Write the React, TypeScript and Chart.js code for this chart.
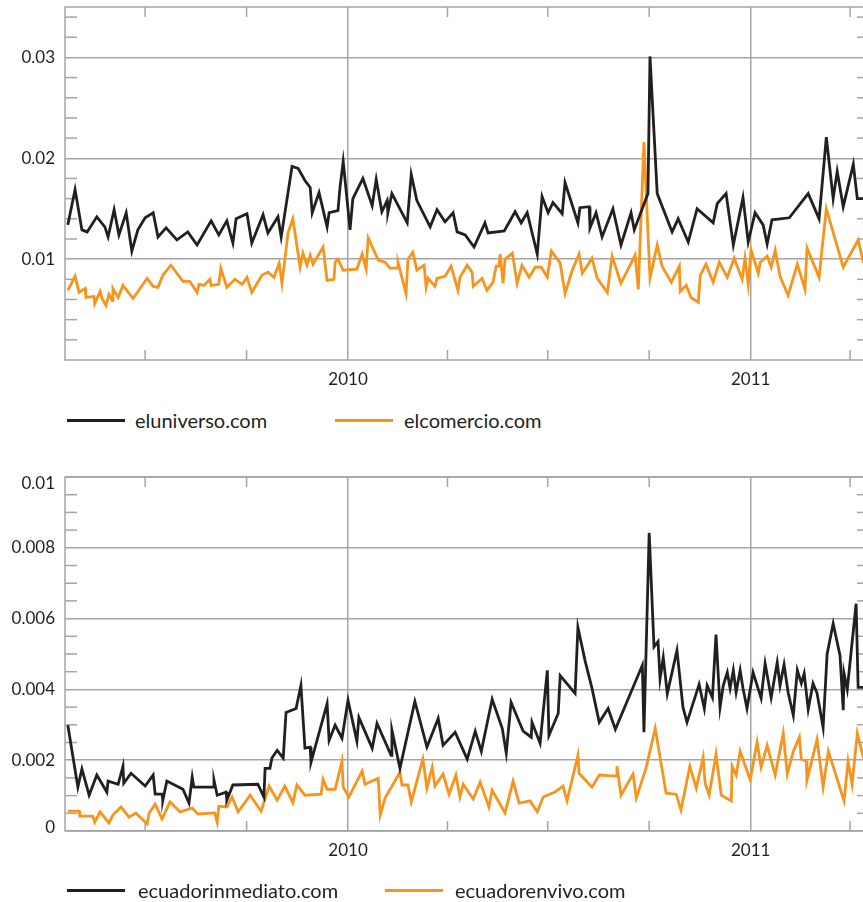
import React, { useEffect, useRef } from "react";
import { Chart, registerables } from "chart.js";
Chart.register(...registerables);

const FONT = "Lato, 'Open Sans', sans-serif";
const INK = "#231f20";
const ORANGE = "#f7941d";
const GRID = "#a5a5a5";

// x axis in decimal years
const X_MIN = 2009.297;
const X_MAX = 2011.294;
const YEAR_TICKS = [2010, 2011];
const QUARTER_TICKS = [2009.496, 2009.748, 2010.247, 2010.496, 2010.748, 2011.247];

const TOP_Y_MAX = 0.035;
const TOP_Y_TICKS = [0.01, 0.02, 0.03];
const TOP_Y_MINOR_STEP = 0.002;
const BOTTOM_Y_MAX = 0.01;
const BOTTOM_Y_TICKS = [0, 0.002, 0.004, 0.006, 0.008, 0.01];
const BOTTOM_Y_MINOR_STEP = 0.0005;

// eluniverso.com
const eluniversoDates = [
  2009.304, 2009.322, 2009.339, 2009.352, 2009.376, 2009.396, 2009.404, 2009.419, 2009.431, 2009.449,
  2009.463, 2009.478, 2009.496, 2009.516, 2009.528, 2009.548, 2009.575, 2009.602, 2009.625, 2009.66,
  2009.679, 2009.699, 2009.714, 2009.722, 2009.749, 2009.761, 2009.789, 2009.801, 2009.826, 2009.834,
  2009.861, 2009.876, 2009.893, 2009.906, 2009.911, 2009.928, 2009.948, 2009.953, 2009.975, 2009.98,
  2009.988, 2010.005, 2010.012, 2010.037, 2010.06, 2010.07, 2010.084, 2010.097, 2010.099, 2010.109,
  2010.147, 2010.157, 2010.171, 2010.204, 2010.221, 2010.241, 2010.261, 2010.271, 2010.291, 2010.313,
  2010.34, 2010.348, 2010.388, 2010.415, 2010.43, 2010.445, 2010.47, 2010.482, 2010.497, 2010.509,
  2010.532, 2010.539, 2010.559, 2010.571, 2010.576, 2010.599, 2010.601, 2010.616, 2010.631, 2010.658,
  2010.678, 2010.703, 2010.711, 2010.745, 2010.75, 2010.768, 2010.805, 2010.82, 2010.845, 2010.867,
  2010.907, 2010.917, 2010.939, 2010.957, 2010.981, 2010.994, 2011.011, 2011.031, 2011.041, 2011.053,
  2011.096, 2011.143, 2011.17, 2011.188, 2011.205, 2011.215, 2011.23, 2011.255, 2011.265, 2011.28, 2011.292,
];
const eluniversoValues = [
  0.0134, 0.0169, 0.0129, 0.0127, 0.0142, 0.0132, 0.0122, 0.0149, 0.0124, 0.0146,
  0.0108, 0.0129, 0.0141, 0.0146, 0.0122, 0.0131, 0.0119, 0.0127, 0.0114, 0.0138,
  0.0124, 0.0138, 0.0116, 0.014, 0.0145, 0.0116, 0.0144, 0.0126, 0.0142, 0.0122,
  0.0192, 0.019, 0.0178, 0.0171, 0.0146, 0.0166, 0.0132, 0.0146, 0.0148, 0.0171,
  0.0197, 0.0129, 0.016, 0.018, 0.0153, 0.0179, 0.0147, 0.0158, 0.0146, 0.0165,
  0.0136, 0.0184, 0.0158, 0.0132, 0.0149, 0.0137, 0.0146, 0.0127, 0.0124, 0.0112,
  0.0136, 0.0126, 0.0128, 0.0147, 0.0136, 0.0146, 0.0105, 0.0162, 0.0146, 0.0156,
  0.0145, 0.0176, 0.0151, 0.0136, 0.0151, 0.0152, 0.0131, 0.0146, 0.0122, 0.015,
  0.0114, 0.0146, 0.0129, 0.0165, 0.0301, 0.0165, 0.0127, 0.014, 0.0117, 0.015,
  0.0136, 0.0155, 0.0165, 0.0114, 0.0161, 0.0117, 0.0146, 0.0134, 0.0115, 0.0139,
  0.0141, 0.0165, 0.014, 0.0221, 0.016, 0.0187, 0.0152, 0.0194, 0.016, 0.016, 0.016,
];

// elcomercio.com
const elcomercioDates = [
  2009.304, 2009.322, 2009.332, 2009.347, 2009.349, 2009.369, 2009.371, 2009.384, 2009.389, 2009.399,
  2009.406, 2009.414, 2009.416, 2009.429, 2009.441, 2009.466, 2009.501, 2009.516, 2009.528, 2009.54,
  2009.56, 2009.59, 2009.607, 2009.625, 2009.63, 2009.642, 2009.657, 2009.66, 2009.679, 2009.684,
  2009.699, 2009.719, 2009.737, 2009.749, 2009.761, 2009.786, 2009.801, 2009.816, 2009.829, 2009.836,
  2009.851, 2009.863, 2009.881, 2009.888, 2009.898, 2009.906, 2009.913, 2009.938, 2009.948, 2009.965,
  2009.968, 2009.975, 2009.988, 2010.022, 2010.035, 2010.045, 2010.05, 2010.075, 2010.092, 2010.104,
  2010.122, 2010.124, 2010.144, 2010.149, 2010.161, 2010.171, 2010.189, 2010.194, 2010.199, 2010.216,
  2010.221, 2010.241, 2010.256, 2010.273, 2010.278, 2010.296, 2010.308, 2010.311, 2010.333, 2010.345,
  2010.36, 2010.368, 2010.375, 2010.378, 2010.385, 2010.39, 2010.408, 2010.42, 2010.432, 2010.45,
  2010.465, 2010.48, 2010.495, 2010.505, 2010.527, 2010.539, 2010.557, 2010.574, 2010.582, 2010.606,
  2010.619, 2010.644, 2010.656, 2010.678, 2010.713, 2010.721, 2010.735, 2010.75, 2010.768, 2010.78,
  2010.803, 2010.823, 2010.825, 2010.84, 2010.852, 2010.87, 2010.875, 2010.889, 2010.907, 2010.922,
  2010.942, 2010.959, 2010.979, 2010.986, 2010.994, 2011.001, 2011.019, 2011.024, 2011.041, 2011.051,
  2011.061, 2011.073, 2011.093, 2011.116, 2011.135, 2011.14, 2011.17, 2011.188, 2011.23, 2011.267,
  2011.28, 2011.292,
];
const elcomercioValues = [
  0.0069, 0.0083, 0.0067, 0.0071, 0.0062, 0.0063, 0.0056, 0.0068, 0.0061, 0.0054,
  0.0065, 0.0059, 0.0071, 0.0062, 0.0074, 0.0061, 0.0081, 0.0073, 0.0072, 0.0084,
  0.0094, 0.0078, 0.0078, 0.0067, 0.0075, 0.0074, 0.008, 0.0074, 0.0075, 0.0091,
  0.0072, 0.008, 0.0075, 0.0082, 0.0067, 0.0084, 0.0087, 0.0082, 0.0096, 0.0076,
  0.0126, 0.014, 0.0092, 0.0106, 0.0094, 0.0104, 0.0095, 0.0112, 0.0079, 0.008,
  0.0097, 0.01, 0.0089, 0.009, 0.0105, 0.009, 0.0121, 0.0099, 0.0097, 0.0091,
  0.0091, 0.0097, 0.0066, 0.01, 0.0107, 0.0089, 0.0094, 0.0072, 0.0081, 0.0073,
  0.0081, 0.0083, 0.0093, 0.0069, 0.0082, 0.0094, 0.0087, 0.0073, 0.0081, 0.0069,
  0.0077, 0.0093, 0.0093, 0.0105, 0.0076, 0.01, 0.0106, 0.0076, 0.0094, 0.0082,
  0.0092, 0.0092, 0.0082, 0.0108, 0.0096, 0.0066, 0.0089, 0.0105, 0.0086, 0.0101,
  0.0081, 0.0067, 0.0103, 0.0076, 0.0104, 0.007, 0.0216, 0.0081, 0.0114, 0.0093,
  0.0077, 0.0093, 0.0068, 0.0074, 0.0062, 0.0057, 0.0084, 0.0095, 0.0077, 0.0097,
  0.0082, 0.0101, 0.008, 0.0101, 0.0075, 0.0109, 0.0086, 0.0097, 0.0103, 0.0092,
  0.0109, 0.0083, 0.0064, 0.0095, 0.007, 0.0111, 0.0082, 0.015, 0.0092, 0.0119,
  0.0097, 0.009,
];

// ecuadorinmediato.com
const ecuadorinmediatoDates = [
  2009.304, 2009.329, 2009.339, 2009.357, 2009.376, 2009.401, 2009.404, 2009.429, 2009.441, 2009.443,
  2009.461, 2009.496, 2009.516, 2009.521, 2009.538, 2009.54, 2009.55, 2009.59, 2009.605, 2009.613,
  2009.617, 2009.665, 2009.667, 2009.675, 2009.697, 2009.699, 2009.714, 2009.776, 2009.791, 2009.794,
  2009.806, 2009.811, 2009.824, 2009.839, 2009.846, 2009.871, 2009.883, 2009.893, 2009.906, 2009.908,
  2009.948, 2009.953, 2009.968, 2009.985, 2010.0, 2010.022, 2010.027, 2010.06, 2010.072, 2010.107,
  2010.109, 2010.129, 2010.166, 2010.196, 2010.224, 2010.236, 2010.266, 2010.296, 2010.316, 2010.331,
  2010.358, 2010.383, 2010.393, 2010.405, 2010.435, 2010.455, 2010.457, 2010.477, 2010.495, 2010.499,
  2010.522, 2010.527, 2010.564, 2010.571, 2010.589, 2010.606, 2010.624, 2010.646, 2010.664, 2010.731,
  2010.735, 2010.748, 2010.76, 2010.77, 2010.775, 2010.783, 2010.793, 2010.817, 2010.832, 2010.842,
  2010.872, 2010.885, 2010.892, 2010.905, 2010.914, 2010.924, 2010.932, 2010.942, 2010.949, 2010.957,
  2010.964, 2010.974, 2010.981, 2010.991, 2011.006, 2011.026, 2011.036, 2011.051, 2011.066, 2011.073,
  2011.083, 2011.093, 2011.106, 2011.116, 2011.126, 2011.133, 2011.143, 2011.155, 2011.165, 2011.18,
  2011.19, 2011.205, 2011.222, 2011.23, 2011.232, 2011.24, 2011.262, 2011.267, 2011.28, 2011.292,
];
const ecuadorinmediatoValues = [
  0.00299, 0.00124, 0.00175, 0.00101, 0.00158, 0.0011, 0.00141, 0.00132, 0.00183, 0.00135,
  0.00163, 0.00127, 0.00158, 0.00104, 0.00104, 0.00087, 0.00141, 0.00118, 0.00079, 0.00152,
  0.00124, 0.00124, 0.00144, 0.00101, 0.0011, 0.00087, 0.0013, 0.00132, 0.00096, 0.00177,
  0.00177, 0.00206, 0.00228, 0.00206, 0.00335, 0.00346, 0.00411, 0.00234, 0.00237, 0.00194,
  0.0036, 0.00256, 0.00299, 0.00262, 0.00369, 0.00254, 0.00321, 0.00234, 0.00304, 0.00214,
  0.00285, 0.00177, 0.00366, 0.00237, 0.00318, 0.00242, 0.00279, 0.00203, 0.00282, 0.00225,
  0.00372, 0.0029, 0.0022, 0.00363, 0.00282, 0.00265, 0.00307, 0.00248, 0.00454, 0.0027,
  0.00332, 0.00439, 0.00389, 0.00575, 0.0048, 0.00403, 0.00307, 0.00346, 0.00287, 0.00468,
  0.00279, 0.00842, 0.0052, 0.00535, 0.0043, 0.0049, 0.00388, 0.0051, 0.00349, 0.00307,
  0.00414, 0.00346, 0.00411, 0.00377, 0.00555, 0.00349, 0.00411, 0.00448, 0.00403, 0.00454,
  0.00392, 0.00454, 0.00403, 0.00346, 0.00448, 0.00375, 0.00473, 0.00377, 0.00476, 0.00411,
  0.0047, 0.00392, 0.00327, 0.00454, 0.00417, 0.00445, 0.00344, 0.00417, 0.00389, 0.00293,
  0.005, 0.00586, 0.00496, 0.00341, 0.00445, 0.004, 0.00642, 0.00406, 0.00406, 0.00406,
];

// ecuadorenvivo.com
const ecuadorenvivoDates = [
  2009.304, 2009.332, 2009.334, 2009.366, 2009.371, 2009.384, 2009.406, 2009.416, 2009.436, 2009.456,
  2009.473, 2009.501, 2009.506, 2009.521, 2009.538, 2009.558, 2009.583, 2009.613, 2009.627, 2009.669,
  2009.675, 2009.679, 2009.699, 2009.712, 2009.727, 2009.757, 2009.784, 2009.804, 2009.824, 2009.843,
  2009.863, 2009.873, 2009.893, 2009.933, 2009.938, 2009.948, 2009.968, 2009.985, 2009.988, 2010.002,
  2010.035, 2010.042, 2010.075, 2010.08, 2010.092, 2010.129, 2010.134, 2010.149, 2010.157, 2010.186,
  2010.196, 2010.209, 2010.216, 2010.236, 2010.251, 2010.268, 2010.278, 2010.286, 2010.311, 2010.328,
  2010.35, 2010.358, 2010.39, 2010.41, 2010.425, 2010.452, 2010.47, 2010.485, 2010.514, 2010.534,
  2010.544, 2010.571, 2010.574, 2010.606, 2010.624, 2010.666, 2010.668, 2010.678, 2010.708, 2010.716,
  2010.74, 2010.763, 2010.79, 2010.815, 2010.827, 2010.849, 2010.865, 2010.882, 2010.887, 2010.897,
  2010.914, 2010.927, 2010.952, 2010.954, 2010.964, 2010.974, 2010.999, 2011.016, 2011.026, 2011.041,
  2011.061, 2011.081, 2011.091, 2011.106, 2011.121, 2011.126, 2011.138, 2011.14, 2011.165, 2011.18,
  2011.193, 2011.232, 2011.242, 2011.252, 2011.265, 2011.28, 2011.292,
];
const ecuadorenvivoValues = [
  0.00056, 0.00056, 0.00042, 0.00042, 0.00025, 0.00054, 0.00023, 0.00045, 0.00068, 0.00039,
  0.00051, 0.0002, 0.00051, 0.00076, 0.00034, 0.00082, 0.00054, 0.00065, 0.00048, 0.00051,
  0.00025, 0.0007, 0.00068, 0.00096, 0.00054, 0.00101, 0.00056, 0.00127, 0.00087, 0.00127,
  0.0008, 0.0013, 0.00101, 0.00104, 0.00146, 0.00118, 0.00118, 0.00197, 0.00124, 0.00096,
  0.00169, 0.00132, 0.00149, 0.00045, 0.00093, 0.00166, 0.0013, 0.0013, 0.00082, 0.00203,
  0.00121, 0.0018, 0.00127, 0.00161, 0.00104, 0.00158, 0.00096, 0.00132, 0.0009, 0.00138,
  0.00068, 0.00115, 0.00051, 0.00141, 0.00079, 0.00085, 0.00054, 0.00096, 0.0011, 0.00127,
  0.00085, 0.00214, 0.00163, 0.00124, 0.00158, 0.00155, 0.00183, 0.00101, 0.00161, 0.00093,
  0.00177, 0.0029, 0.00107, 0.00104, 0.00059, 0.00183, 0.00121, 0.00208, 0.00135, 0.00101,
  0.00217, 0.00101, 0.00085, 0.00183, 0.00158, 0.00225, 0.00144, 0.00251, 0.0018, 0.00242,
  0.00158, 0.00276, 0.00161, 0.00225, 0.00265, 0.00203, 0.00197, 0.00144, 0.00259, 0.00124,
  0.00225, 0.00085, 0.00197, 0.00132, 0.00276, 0.00208, 0.0019,
];

type Series = { label: string; color: string; dates: number[]; values: number[] };

function framePlugin(minor: number[], yTicks: number[]) {
  return {
    id: "frameTicks",
    beforeDatasetsDraw(chart: any) {
      const { ctx, chartArea: a, scales } = chart;
      const xs = scales.x;
      const ys = scales.y;
      ctx.save();
      ctx.strokeStyle = GRID;
      ctx.lineWidth = 1.5;
      const seg = (x1: number, y1: number, x2: number, y2: number) => {
        ctx.beginPath();
        ctx.moveTo(x1, y1);
        ctx.lineTo(x2, y2);
        ctx.stroke();
      };
      for (const v of minor) {
        const py = ys.getPixelForValue(v);
        seg(a.left, py, a.left + 12, py);
        seg(a.right - 12, py, a.right, py);
      }
      for (const q of QUARTER_TICKS) {
        const px = xs.getPixelForValue(q);
        seg(px, a.top, px, a.top + 10);
        seg(px, a.bottom - 10, px, a.bottom);
      }
      ctx.strokeRect(a.left, a.top, a.right - a.left, a.bottom - a.top);
      // y tick labels, kept inside the frame's vertical extent
      ctx.fillStyle = INK;
      ctx.font = `17px ${FONT}`;
      ctx.textAlign = "right";
      ctx.textBaseline = "middle";
      for (const v of yTicks) {
        const py = Math.min(Math.max(ys.getPixelForValue(v), a.top + 7), a.bottom - 3);
        ctx.fillText(String(v), a.left - 10, py);
      }
      ctx.restore();
    },
  };
}

type PanelProps = {
  top: number;
  height: number;
  padTop: number;
  axisHeight: number;
  yMax: number;
  yTicks: number[];
  yMinorStep: number;
  series: Series[];
  legendY: number;
  legendX: { line: number; text: number }[];
};

function Panel(p: PanelProps) {
  const ref = useRef<HTMLCanvasElement>(null);
  useEffect(() => {
    const minor: number[] = [];
    for (let k = 1; k * p.yMinorStep < p.yMax - 1e-9; k++) {
      const v = +(k * p.yMinorStep).toFixed(6);
      if (!p.yTicks.some((t) => Math.abs(t - v) < 1e-9)) minor.push(v);
    }
    const tickFont = { family: FONT, size: 17 };
    const chart = new Chart(ref.current as HTMLCanvasElement, {
      type: "line",
      data: {
        datasets: p.series.map((s) => ({
          label: s.label,
          data: s.dates.map((d, i) => ({ x: d, y: s.values[i] })),
          borderColor: s.color,
          backgroundColor: s.color,
          borderWidth: 2.8,
          pointRadius: 0,
          tension: 0,
          fill: false,
        })),
      },
      options: {
        animation: false,
        responsive: false,
        maintainAspectRatio: false,
        layout: { padding: { top: p.padTop, right: 11, left: 0, bottom: 0 } },
        plugins: { legend: { display: false }, tooltip: { enabled: false } },
        scales: {
          x: {
            type: "linear",
            min: X_MIN,
            max: X_MAX,
            afterBuildTicks: (s: any) => {
              s.ticks = YEAR_TICKS.map((v) => ({ value: v }));
            },
            afterFit: (s: any) => {
              s.height = p.axisHeight;
              s.paddingLeft = 0;
              s.paddingRight = 0;
            },
            ticks: {
              callback: (v: any) => String(v),
              font: tickFont,
              color: INK,
              padding: 9,
              maxRotation: 0,
              autoSkip: false,
            },
            grid: { color: GRID, lineWidth: 1.5, drawTicks: false },
            border: { display: false },
          },
          y: {
            type: "linear",
            min: 0,
            max: p.yMax,
            afterBuildTicks: (s: any) => {
              s.ticks = p.yTicks.map((v) => ({ value: v }));
            },
            afterFit: (s: any) => {
              s.width = 65;
              s.paddingTop = 0;
              s.paddingBottom = 0;
            },
            ticks: { display: false, autoSkip: false },
            grid: { color: GRID, lineWidth: 1.5, drawTicks: false },
            border: { display: false },
          },
        },
      } as any,
      plugins: [framePlugin(minor, p.yTicks) as any],
    });
    return () => chart.destroy();
  }, []);

  return (
    <>
      <canvas
        ref={ref}
        width={880}
        height={p.height}
        style={{ position: "absolute", left: 0, top: p.top, width: 880, height: p.height }}
      />
      {p.series.map((s, i) => (
        <React.Fragment key={s.label}>
          <div
            style={{
              position: "absolute",
              left: p.legendX[i].line,
              top: p.legendY - 1.5,
              width: 58,
              height: 3,
              background: s.color,
            }}
          />
          <div
            style={{
              position: "absolute",
              left: p.legendX[i].text,
              top: p.legendY - 12,
              height: 24,
              lineHeight: "24px",
              fontFamily: FONT,
              fontSize: 20,
              color: INK,
              whiteSpace: "nowrap",
            }}
          >
            {s.label}
          </div>
        </React.Fragment>
      ))}
    </>
  );
}

export default function App() {
  const topSeries: Series[] = [
    { label: "eluniverso.com", color: INK, dates: eluniversoDates, values: eluniversoValues },
    { label: "elcomercio.com", color: ORANGE, dates: elcomercioDates, values: elcomercioValues },
  ];
  const bottomSeries: Series[] = [
    { label: "ecuadorinmediato.com", color: INK, dates: ecuadorinmediatoDates, values: ecuadorinmediatoValues },
    { label: "ecuadorenvivo.com", color: ORANGE, dates: ecuadorenvivoDates, values: ecuadorenvivoValues },
  ];
  return (
    <div
      style={{
        position: "fixed",
        left: 0,
        top: 0,
        width: 863,
        height: 902,
        overflow: "hidden",
        background: "#ffffff",
      }}
    >
      <Panel
        top={0}
        height={400}
        padTop={7}
        axisHeight={40}
        yMax={TOP_Y_MAX}
        yTicks={TOP_Y_TICKS}
        yMinorStep={TOP_Y_MINOR_STEP}
        series={topSeries}
        legendY={420}
        legendX={[
          { line: 67, text: 135 },
          { line: 335, text: 404 },
        ]}
      />
      <Panel
        top={440}
        height={440}
        padTop={37}
        axisHeight={49}
        yMax={BOTTOM_Y_MAX}
        yTicks={BOTTOM_Y_TICKS}
        yMinorStep={BOTTOM_Y_MINOR_STEP}
        series={bottomSeries}
        legendY={890}
        legendX={[
          { line: 67, text: 138 },
          { line: 385, text: 455 },
        ]}
      />
    </div>
  );
}
